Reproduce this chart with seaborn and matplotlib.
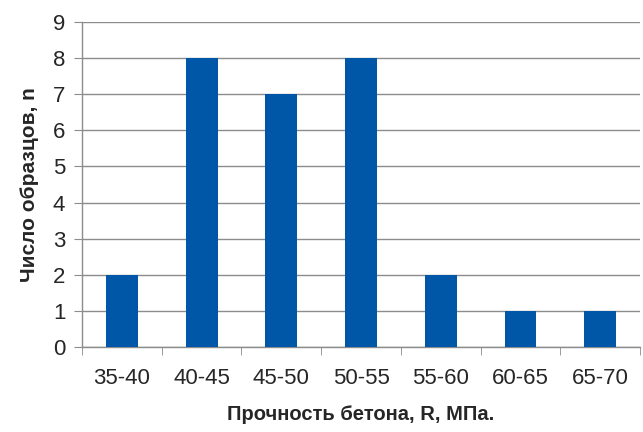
import numpy as np
import pandas as pd
import matplotlib
matplotlib.use("Agg")
import matplotlib.pyplot as plt
import seaborn as sns
from matplotlib.ticker import FixedLocator

sns.set_style("white")
plt.rcParams['font.family'] = ['Liberation Sans', 'DejaVu Sans']

# data
intervals = ["35-40", "40-45", "45-50", "50-55", "55-60", "60-65", "65-70"]
counts = [2, 8, 7, 8, 2, 1, 1]
df = pd.DataFrame({"interval": intervals, "n": counts})

fig = plt.figure(figsize=(6.43, 4.32), dpi=100)
ax = fig.add_axes([0.1275, 0.197, 0.868, 0.752])

sns.barplot(data=df, x="interval", y="n", color="#0057A8", saturation=1,
            width=0.4, linewidth=0, ax=ax, zorder=3)

ax.set_ylim(0, 9)
ax.set_xlim(-0.5, len(intervals) - 0.5)
ax.set_yticks(range(0, 10))
ax.yaxis.grid(True, color="#8c8c8c", linewidth=1, zorder=0)
ax.set_axisbelow(True)

for s in ["top", "right"]:
    ax.spines[s].set_visible(False)
for s in ["left", "bottom"]:
    ax.spines[s].set_color("#8c8c8c")
    ax.spines[s].set_linewidth(1)

# ticks between categories on x
ax.xaxis.set_minor_locator(FixedLocator(np.arange(-0.5, len(intervals), 1)))
ax.tick_params(axis="x", which="major", length=0, pad=15, labelsize=16)
ax.tick_params(axis="x", which="minor", length=6, color="#8c8c8c", direction="out", bottom=True)
ax.tick_params(axis="y", which="major", length=6, color="#8c8c8c", direction="out", left=True, labelsize=16, pad=6)

ax.set_xlabel("Прочность бетона, R, МПа.", fontsize=14.5, fontweight="bold", labelpad=12)
ax.set_ylabel("Число образцов, n", fontsize=15, fontweight="bold", labelpad=10)

plt.savefig("out.png", dpi=100)
